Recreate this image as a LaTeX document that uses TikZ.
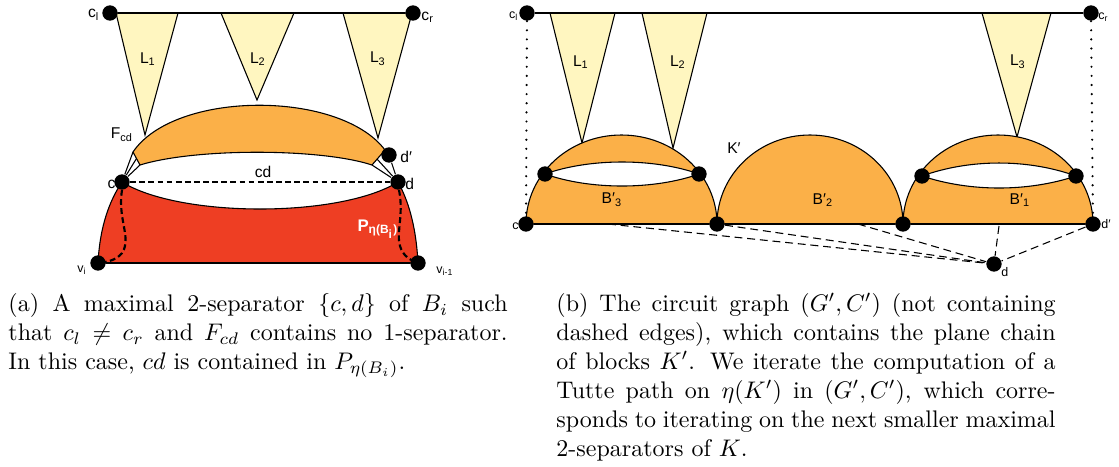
\documentclass[tikz,border=0pt]{standalone}
\usepackage{fontspec}
\newfontfamily\labfont{Liberation Sans}
\definecolor{borange}{RGB}{251,176,72}
\definecolor{lyellow}{RGB}{255,246,192}
\definecolor{bred}{RGB}{238,62,35}
\hbadness=10000
\tikzset{
  dotnode/.style={circle, fill=black, inner sep=0pt, minimum size=6.4pt},
  lbl/.style={font=\labfont\fontsize{6.5}{7}\selectfont, inner sep=0pt},
  slbl/.style={font=\labfont\fontsize{5.2}{6}\selectfont, inner sep=0pt},
  tri/.style={draw=black, fill=lyellow, line width=0.45pt},
  blk/.style={draw=black, fill=borange, line width=0.45pt},
  edge/.style={draw=black, line width=0.45pt},
  dashedge/.style={draw=black, line width=0.45pt, dash pattern=on 3.3pt off 2pt},
  thickdash/.style={draw=black, line width=0.9pt, dash pattern=on 2.4pt off 1.4pt},
  dotline/.style={draw=black, line width=1pt, line cap=round, dash pattern=on 0pt off 3.8pt},
  captext/.style={anchor=north west, inner sep=0pt, align=justify, font=\fontsize{10}{12.1}\selectfont}
}
\begin{document}
\begin{tikzpicture}[x=0.4167pt,y=-0.4167pt]
\useasboundingbox (0,0) rectangle (1119,466);
% ================= left diagram =================
\coordinate (pcl) at (110,13);
\coordinate (pcr) at (413,13);
\coordinate (pc) at (122,182);
\coordinate (pd) at (398,182);
\coordinate (pdp) at (389,155);
\coordinate (pvi) at (98,263);
\coordinate (pvj) at (418,263);
\coordinate (f1) at (133,152);
\coordinate (f2) at (136.5,158.5);
\coordinate (f3) at (140,165);
\coordinate (g1) at (372,165);
\coordinate (g2) at (377,159);
% triangles
\filldraw[tri] (116,13) -- (145,135) -- (178,13) -- cycle;
\filldraw[tri] (221,13) -- (257,100) -- (294,13) -- cycle;
\filldraw[tri] (343,13) -- (378,138) -- (412,13) -- cycle;
% F_cd
\filldraw[blk] (f1) .. controls (175,90) and (340,90) .. (385,150) -- (g1)
  .. controls (320,148) and (195,148) .. (f3) -- cycle;
% red region
\filldraw[fill=bred, draw=black, line width=0.45pt] (pvi) .. controls (100,225) and (110,200) .. (pc)
  .. controls (180,218) and (340,218) .. (pd) .. controls (408,200) and (416,225) .. (pvj) -- cycle;
% dashed paths
\draw[thickdash] (122,190) .. controls (118,215) and (128,232) .. (125,246)
  .. controls (123,257) and (112,262) .. (pvi);
\draw[thickdash] (399,190) .. controls (404,215) and (396,232) .. (400,246)
  .. controls (403,256) and (410,260) .. (pvj);
% dots
\node[dotnode] (cl) at (pcl) {};
\node[dotnode] (cr) at (pcr) {};
\node[dotnode] (c) at (pc) {};
\node[dotnode] (d) at (pd) {};
\node[dotnode] (dp) at (pdp) {};
\node[dotnode] (vi) at (pvi) {};
\node[dotnode] (vj) at (pvj) {};
% edges
\draw[edge] (cl) -- (cr);
\draw[edge] (c) -- (f1);
\draw[edge] (c) -- (f2);
\draw[edge] (c) -- (f3);
\draw[edge] (d) -- (g1);
\draw[edge] (d) -- (g2);
\draw[edge] (d) -- (dp);
\draw[edge] (vi) -- (vj);
\draw[thickdash] (c) -- (d);
% labels
\node[lbl, anchor=east] (tcl) at (100,15) {c\textsubscript{l}};
\node[lbl, anchor=west] (tcr) at (421,17) {c\textsubscript{r}};
\node[lbl] (tL1) at (148,59) {L\textsubscript{1}};
\node[lbl] (tL2) at (258,59) {L\textsubscript{2}};
\node[lbl] (tL3) at (378,59) {L\textsubscript{3}};
\node[lbl] (tF) at (122,135) {F\textsubscript{cd}};
\node[lbl, anchor=west] (tdp) at (400,157) {d′};
\node[lbl, anchor=west] (td) at (405,184) {d};
\node[lbl, anchor=east] (tc) at (116,184) {c};
\node[lbl] (tcd) at (263,172) {cd};
\node[lbl, text=white, font=\labfont\bfseries\fontsize{7}{8}\selectfont] (tP) at (378,229) {P\textsubscript{η(B\textsubscript{i})}};
\node[slbl] (tvi) at (82,270) {v\textsubscript{i}};
\node[slbl] (tvj) at (445,271) {v\textsubscript{i-1}};
% ================= right diagram =================
\coordinate (qcl) at (527,13);
\coordinate (qcr) at (1091,13);
\coordinate (qc) at (526,224);
\coordinate (qx1) at (717,224);
\coordinate (qx2) at (903,224);
\coordinate (qdp) at (1093,224);
\coordinate (qd) at (994,264);
\coordinate (qa1) at (545,174);
\coordinate (qa2) at (699,174);
\coordinate (qb1) at (922,176);
\coordinate (qb2) at (1076,176);
\coordinate (e1) at (608,224);
\coordinate (e3) at (858,224);
\coordinate (e4) at (999,226);
% triangles
\filldraw[tri] (550,13) -- (582,143) -- (615,13) -- cycle;
\filldraw[tri] (642,13) -- (673,148) -- (707,13) -- cycle;
\filldraw[tri] (982,13) -- (1017,137) -- (1051,13) -- cycle;
% blocks
\filldraw[blk] (qc) .. controls (526,174.8) and (568.8,135) .. (621.5,135)
  .. controls (674.2,135) and (717,174.8) .. (qx1) -- cycle;
\filldraw[blk] (qx1) .. controls (717,174.8) and (758.6,135) .. (810,135)
  .. controls (861.4,135) and (903,174.8) .. (qx2) -- cycle;
\filldraw[blk] (qx2) .. controls (903,174.8) and (945.5,135) .. (998,135)
  .. controls (1050.5,135) and (1093,174.8) .. (qdp) -- cycle;
% lenses
\filldraw[fill=white, draw=black, line width=0.45pt] (qa1) .. controls (590,158) and (654,158) .. (qa2)
  .. controls (654,190) and (590,190) .. (qa1) -- cycle;
\filldraw[fill=white, draw=black, line width=0.45pt] (qb1) .. controls (970,158.7) and (1028,158.7) .. (qb2)
  .. controls (1028,192) and (970,192) .. (qb1) -- cycle;
% dots
\node[dotnode] (cl2) at (qcl) {};
\node[dotnode] (cr2) at (qcr) {};
\node[dotnode] (c2) at (qc) {};
\node[dotnode] (x1) at (qx1) {};
\node[dotnode] (x2) at (qx2) {};
\node[dotnode] (dp2) at (qdp) {};
\node[dotnode] (d2) at (qd) {};
\node[dotnode] (a1) at (qa1) {};
\node[dotnode] (a2) at (qa2) {};
\node[dotnode] (b1) at (qb1) {};
\node[dotnode] (b2) at (qb2) {};
% edges
\draw[edge] (cl2) -- (cr2);
\draw[edge] (c2) -- (x1);
\draw[edge] (x1) -- (x2);
\draw[edge] (x2) -- (dp2);
\draw[dotline] (cl2) -- (c2);
\draw[dotline] (cr2) -- (dp2);
\draw[dashedge] (e1) -- (d2);
\draw[dashedge] (x1) -- (d2);
\draw[dashedge] (e3) -- (d2);
\draw[dashedge] (e4) -- (d2);
\draw[dashedge] (dp2) -- (d2);
% labels
\node[slbl, anchor=east] (ucl) at (519,16) {c\textsubscript{l}};
\node[slbl, anchor=west] (ucr) at (1098,17) {c\textsubscript{r}};
\node[slbl, anchor=east] (uc) at (519,226) {c};
\node[slbl, anchor=west] (udp) at (1101,224) {d′};
\node[slbl, anchor=west] (ud) at (1001,272) {d};
\node[lbl] (uL1) at (581,62) {L\textsubscript{1}};
\node[lbl] (uL2) at (678,62) {L\textsubscript{2}};
\node[lbl] (uL3) at (1018,62) {L\textsubscript{3}};
\node[lbl] (uK) at (734,148) {K′};
\node[lbl] (uB3) at (612,200) {B′\textsubscript{3}};
\node[lbl] (uB2) at (823,200) {B′\textsubscript{2}};
\node[lbl] (uB1) at (1020,200) {B′\textsubscript{1}};
% ================= captions =================
\node[captext, text width=208pt] (capa) at (8,293) {(a) A maximal 2-separator $\{c,d\}$ of $B_i$ such\linebreak
that $c_l \neq c_r$ and $F_{cd}$ contains no 1-separator.\linebreak
In this case, $cd$ is contained in $P_{\eta(B_i)}$.};
\node[captext, text width=208pt] (capb) at (556,293) {(b) The circuit graph $(G',C')$ (not containing\linebreak
dashed edges), which contains the plane chain\linebreak
of blocks $K'$. We iterate the computation of a\linebreak
Tutte path on $\eta(K')$ in $(G',C')$, which corre-\linebreak
sponds to iterating on the next smaller maximal\linebreak
2-separators of $K$.};
\end{tikzpicture}
\end{document}
